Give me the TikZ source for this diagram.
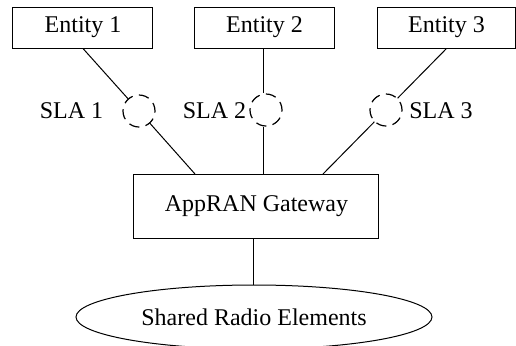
\documentclass[tikz,border=0pt]{standalone}
\usepackage{fontspec}
\setmainfont{Liberation Serif}
\usetikzlibrary{shapes,positioning,calc}

\begin{document}
\begin{tikzpicture}[
            x=0.5pt, y=-0.5pt,
            font=\fontsize{12}{14}\selectfont,
            entity/.style={rectangle, draw, line width=0.5pt, minimum width=70pt, minimum height=20.5pt, inner sep=0pt},
            gateway/.style={rectangle, draw, line width=0.5pt, minimum width=122.5pt, minimum height=32pt, inner sep=0pt},
            radio/.style={ellipse, draw, line width=0.5pt, minimum width=178pt, minimum height=32pt, inner sep=0pt},
            sla/.style={circle, draw, line width=0.6pt, dash pattern=on 5.2pt off 3.2pt, dash phase=1pt, minimum size=16pt, inner sep=0pt},
            link/.style={line width=0.5pt}
        ]
            \useasboundingbox (0,0) rectangle (516,345);

            % Nodes
            \node[entity] (ent1) at (83,27.5) {Entity 1};
            \node[entity] (ent2) at (264.5,27.5) {Entity 2};
            \node[entity, minimum width=69pt] (ent3) at (446.5,27.5) {Entity 3};
            \node[gateway] (gw) at (256.5,206) {AppRAN Gateway};
            \node[radio] (radio) at (254,317) {Shared Radio Elements};

            \node[sla] (sla1) at (139,111) {};
            \node[sla] (sla2) at (266,110) {};
            \node[sla] (sla3) at (386,110) {};

            % SLA labels
            \node (lab1) at (71.5,111) {SLA 1};
            \node (lab2) at (214.5,111) {SLA 2};
            \node (lab3) at (441,111) {SLA 3};

            % Attachment points on the gateway
            \coordinate (gw1) at (195,174);
            \coordinate (gw2) at (264,174);
            \coordinate (gw3) at (323,174);

            % Links
            \draw[link] (ent1.south) -- (sla1);
            \draw[link] (sla1) -- (gw1);
            \draw[link] (ent2.south -| gw2) -- (sla2.north -| gw2);
            \draw[link] (sla2.south -| gw2) -- (gw2);
            \draw[link] (ent3.south) -- (sla3);
            \draw[link] (sla3) -- (gw3);
            \draw[link] (gw.south -| radio.north) -- (radio.north);
        \end{tikzpicture}
\end{document}
